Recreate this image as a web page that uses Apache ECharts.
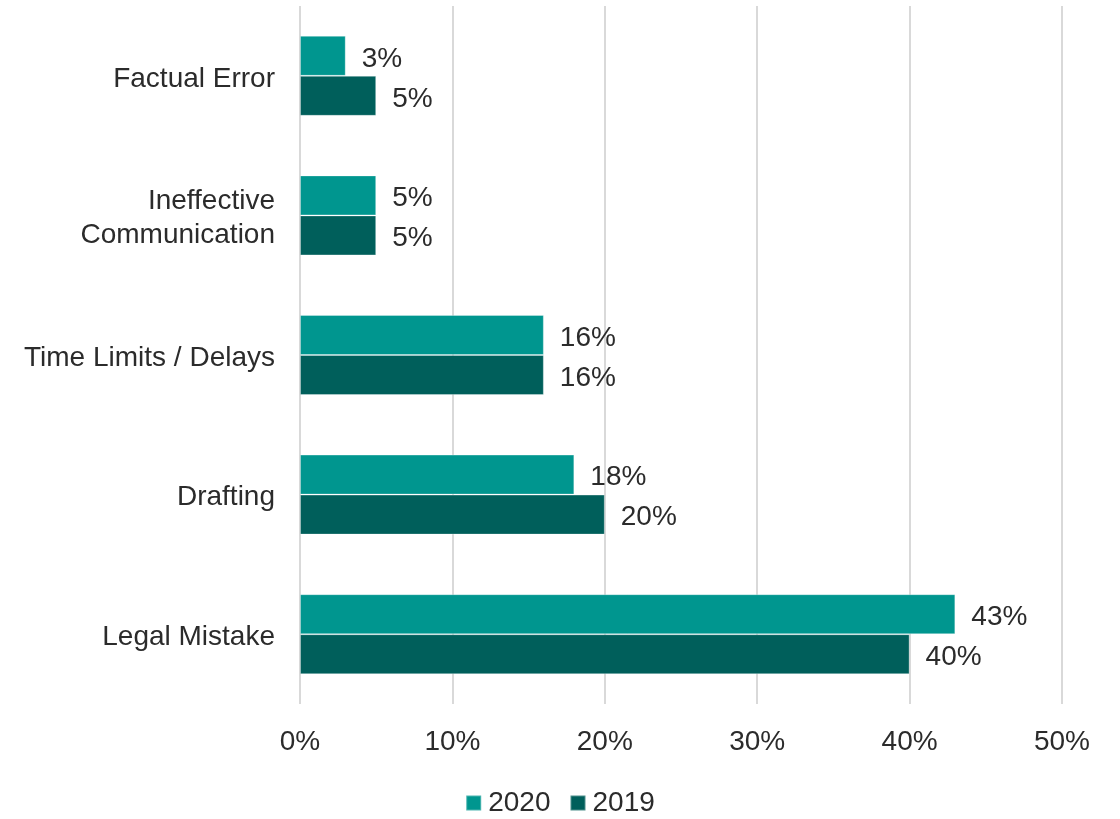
<!DOCTYPE html>
<html>
<head>
<meta charset="utf-8">
<script src="https://cdn.jsdelivr.net/npm/echarts@6/dist/echarts.min.js"></script>
<style>
  html, body { margin: 0; padding: 0; background: #ffffff; }
  #chart { width: 1120px; height: 819px; }
</style>
</head>
<body>
<div id="chart"></div>
<script>
// Complaint categories, listed top to bottom
const categories = ['Factual Error', 'Ineffective\nCommunication', 'Time Limits / Delays', 'Drafting', 'Legal Mistake'];
// Share of complaints (%) per year
const values2020 = [3, 5, 16, 18, 43];
const values2019 = [5, 5, 16, 20, 40];
const seriesNames = ['2020', '2019'];

const chart = echarts.init(document.getElementById('chart'), null, { renderer: 'canvas' });
const font = 'Liberation Sans, Arial, sans-serif';
const textColor = '#2b2b2b';
const fontSize = 28;

const labelStyle = {
  show: true,
  position: 'right',
  distance: 16,
  offset: [0, 3],
  formatter: p => p.value + '%',
  color: textColor,
  fontSize: fontSize,
  fontFamily: font
};

chart.setOption({
  animation: false,
  backgroundColor: '#ffffff',
  grid: { left: 300, right: 58, top: 6, bottom: 115, containLabel: false },
  legend: {
    data: seriesNames,
    bottom: -3,
    left: 'center',
    itemWidth: 15,
    itemHeight: 15,
    itemGap: 19,
    icon: 'rect',
    textStyle: { color: textColor, fontSize: fontSize, fontFamily: font, padding: [0, 0, 0, 2] }
  },
  xAxis: {
    type: 'value',
    min: 0,
    max: 50,
    interval: 10,
    axisLine: { show: false },
    axisTick: { show: false },
    splitLine: { show: true, lineStyle: { color: '#d9d9d9', width: 2 } },
    axisLabel: {
      formatter: v => v + '%',
      color: textColor,
      fontSize: fontSize,
      fontFamily: font,
      margin: 24
    }
  },
  yAxis: {
    type: 'category',
    data: categories,
    inverse: true,
    axisLine: { show: false },
    axisTick: { show: false },
    axisLabel: {
      color: textColor,
      fontSize: fontSize,
      fontFamily: font,
      margin: 25,
      align: 'right',
      // each line is wrapped in a rich style so it can sit a little lower
      formatter: v => v.split('\n').map(line => '{c|' + line + '}').join('\n'),
      rich: {
        c: {
          color: textColor,
          fontSize: fontSize,
          fontFamily: font,
          lineHeight: 34,
          padding: [6, 0, 0, 0]
        }
      }
    }
  },
  series: [
    {
      name: '2020',
      type: 'bar',
      data: values2020,
      barWidth: 40,
      barGap: '0%',
      itemStyle: { color: '#00968f', borderColor: 'rgba(255,255,255,0.3)', borderWidth: 1 },
      label: labelStyle
    },
    {
      name: '2019',
      type: 'bar',
      data: values2019,
      barWidth: 40,
      barGap: '0%',
      itemStyle: { color: '#005f5b', borderColor: 'rgba(255,255,255,0.3)', borderWidth: 1 },
      label: labelStyle
    }
  ]
});
</script>
</body>
</html>
